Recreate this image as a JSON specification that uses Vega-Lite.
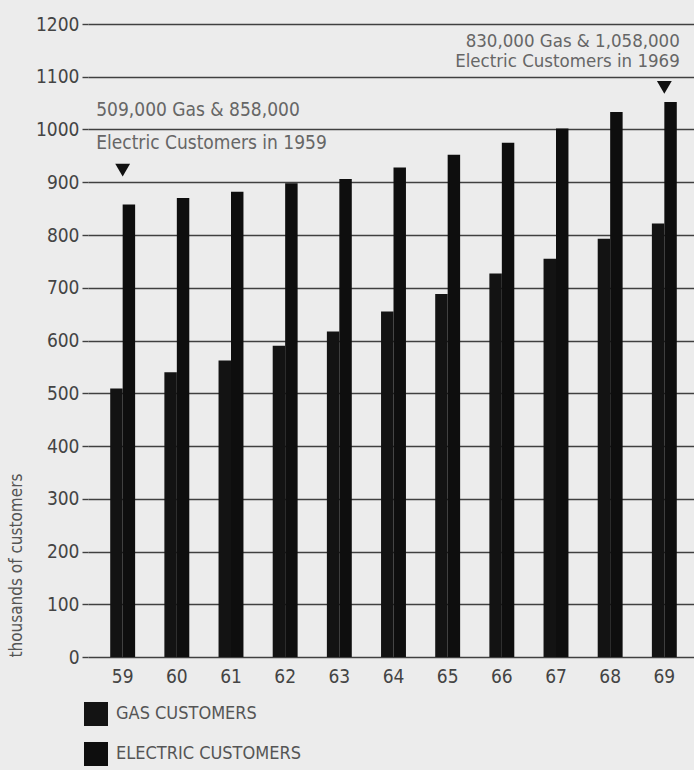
{
  "$schema": "https://vega.github.io/schema/vega-lite/v6.json",
  "autosize": {"type": "none"},
  "padding": {"left": 88, "top": 24, "right": 0, "bottom": 113},
  "width": 611,
  "height": 633,
  "background": "#ececec",
  "config": {
    "view": {"stroke": null},
    "font": "DejaVu Sans Condensed, Roboto Condensed, Roboto, sans-serif",
    "axis": {"labelFont": "DejaVu Sans Condensed, Roboto Condensed, Roboto, sans-serif", "titleFont": "DejaVu Sans Condensed, Roboto Condensed, Roboto, sans-serif"},
    "legend": {"labelFont": "DejaVu Sans Condensed, Roboto Condensed, Roboto, sans-serif"}
  },
  "datasets": {
    "bars": [
      {"year": "59", "type": "GAS CUSTOMERS", "value": 509},
      {"year": "60", "type": "GAS CUSTOMERS", "value": 540},
      {"year": "61", "type": "GAS CUSTOMERS", "value": 562},
      {"year": "62", "type": "GAS CUSTOMERS", "value": 590},
      {"year": "63", "type": "GAS CUSTOMERS", "value": 617},
      {"year": "64", "type": "GAS CUSTOMERS", "value": 655},
      {"year": "65", "type": "GAS CUSTOMERS", "value": 688},
      {"year": "66", "type": "GAS CUSTOMERS", "value": 727},
      {"year": "67", "type": "GAS CUSTOMERS", "value": 755},
      {"year": "68", "type": "GAS CUSTOMERS", "value": 793},
      {"year": "69", "type": "GAS CUSTOMERS", "value": 822},
      {"year": "59", "type": "ELECTRIC CUSTOMERS", "value": 858},
      {"year": "60", "type": "ELECTRIC CUSTOMERS", "value": 870},
      {"year": "61", "type": "ELECTRIC CUSTOMERS", "value": 882},
      {"year": "62", "type": "ELECTRIC CUSTOMERS", "value": 898},
      {"year": "63", "type": "ELECTRIC CUSTOMERS", "value": 906},
      {"year": "64", "type": "ELECTRIC CUSTOMERS", "value": 928},
      {"year": "65", "type": "ELECTRIC CUSTOMERS", "value": 952},
      {"year": "66", "type": "ELECTRIC CUSTOMERS", "value": 975},
      {"year": "67", "type": "ELECTRIC CUSTOMERS", "value": 1002},
      {"year": "68", "type": "ELECTRIC CUSTOMERS", "value": 1033},
      {"year": "69", "type": "ELECTRIC CUSTOMERS", "value": 1052}
    ],
    "notesLeft": [
      {"year": "59", "value": 1037, "text": "509,000 Gas & 858,000"},
      {"year": "59", "value": 974, "text": "Electric Customers in 1959"}
    ],
    "notesRight": [
      {"year": "69", "value": 1167, "text": "830,000 Gas & 1,058,000"},
      {"year": "69", "value": 1129, "text": "Electric Customers in 1969"}
    ],
    "markers": [
      {"year": "59", "value": 923},
      {"year": "69", "value": 1080}
    ]
  },
  "layer": [
    {
      "data": {"name": "bars"},
      "mark": {"type": "bar"},
      "encoding": {
        "x": {
          "field": "year", "type": "nominal",
          "scale": {"paddingInner": 0.54, "paddingOuter": 0.41},
          "axis": {"title": null, "labelAngle": 0, "domain": false, "ticks": false, "grid": false,
                   "labelFontSize": 19, "labelColor": "#444", "labelPadding": 10}
        },
        "xOffset": {"field": "type", "type": "nominal", "scale": {"domain": ["GAS CUSTOMERS", "ELECTRIC CUSTOMERS"]}},
        "y": {
          "field": "value", "type": "quantitative",
          "scale": {"domain": [0, 1200], "nice": false},
          "axis": {
            "title": "thousands of customers",
            "values": [0, 100, 200, 300, 400, 500, 600, 700, 800, 900, 1000, 1100, 1200],
            "format": "d",
            "grid": true, "gridColor": "#404040", "gridWidth": 1.4,
            "domain": false, "ticks": true, "tickColor": "#404040", "tickSize": 6, "tickWidth": 1.4,
            "labelFontSize": 19, "labelColor": "#444", "labelPadding": 3,
            "titleFontSize": 17, "titleFontWeight": "normal", "titleColor": "#555",
            "titleAnchor": "start", "titlePadding": 10
          }
        },
        "color": {
          "field": "type", "type": "nominal",
          "scale": {"domain": ["GAS CUSTOMERS", "ELECTRIC CUSTOMERS"], "range": ["#131313", "#0e0e0e"]},
          "legend": {
            "title": null, "orient": "none", "legendX": -4, "legendY": 678,
            "symbolType": "square", "symbolSize": 576, "symbolStrokeWidth": 0, "symbolOpacity": 1,
            "labelFontSize": 18, "labelColor": "#555", "labelOffset": 8, "rowPadding": 16, "labelLimit": 400
          }
        }
      }
    },
    {
      "data": {"name": "notesLeft"},
      "mark": {"type": "text", "align": "left", "baseline": "middle", "fontSize": 19, "color": "#666", "dx": -14},
      "encoding": {
        "x": {"field": "year", "type": "nominal", "bandPosition": 0},
        "y": {"field": "value", "type": "quantitative"},
        "text": {"field": "text"}
      }
    },
    {
      "data": {"name": "notesRight"},
      "mark": {"type": "text", "align": "right", "baseline": "middle", "fontSize": 18.5, "color": "#666", "dx": 3},
      "encoding": {
        "x": {"field": "year", "type": "nominal", "bandPosition": 1},
        "y": {"field": "value", "type": "quantitative"},
        "text": {"field": "text"}
      }
    },
    {
      "data": {"name": "markers"},
      "mark": {"type": "point", "shape": "triangle-down", "filled": true, "color": "#111", "size": 220, "opacity": 1},
      "encoding": {
        "x": {"field": "year", "type": "nominal"},
        "y": {"field": "value", "type": "quantitative"}
      }
    }
  ]
}
